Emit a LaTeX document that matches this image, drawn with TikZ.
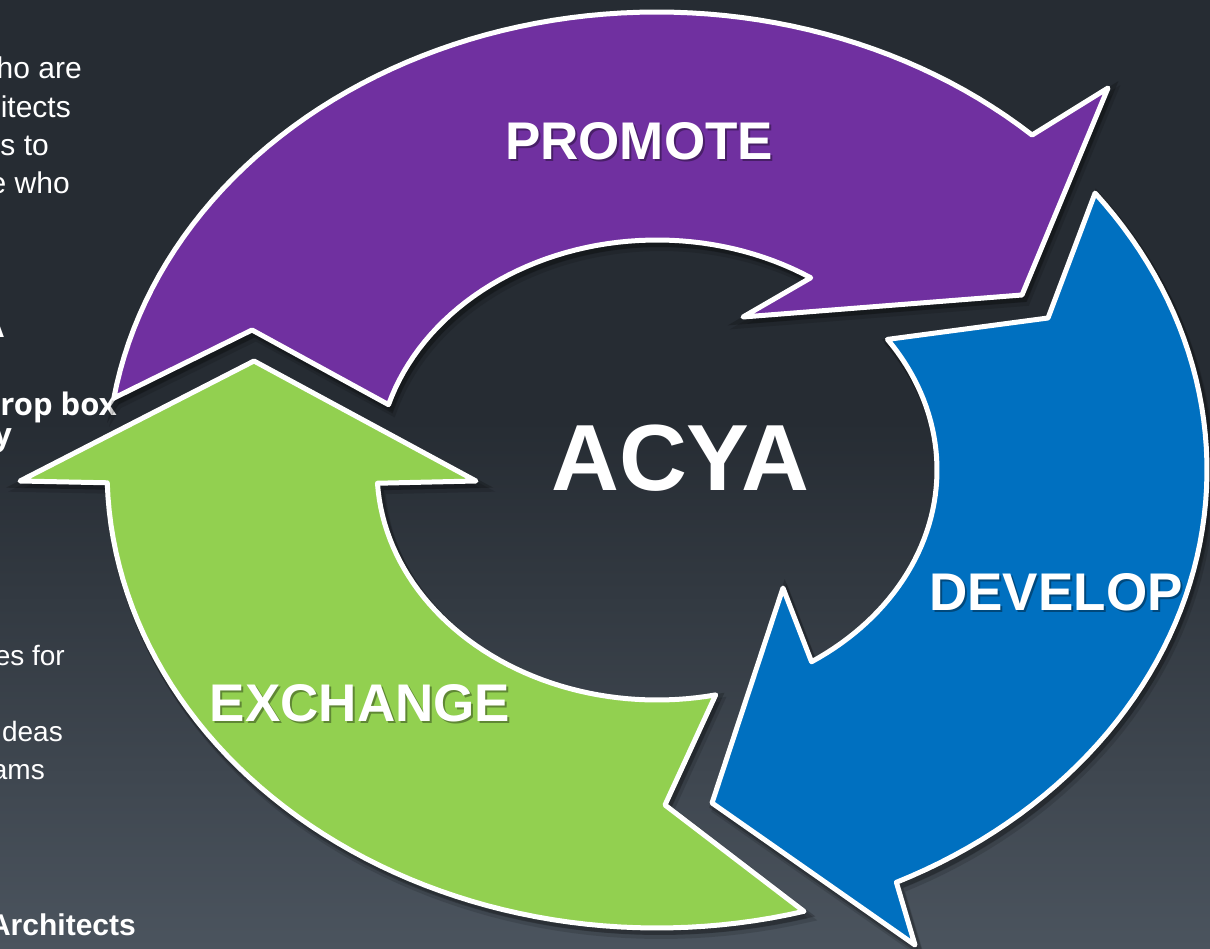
\documentclass[tikz,border=0pt]{standalone}
\usepackage{fontspec}
\setmainfont{Liberation Sans}
\newfontfamily\opensans{Open Sans}
\definecolor{bgtop}{HTML}{262C33}
\definecolor{bgbot}{HTML}{4B545E}
\definecolor{purp}{HTML}{7030A0}
\definecolor{blu}{HTML}{0070C0}
\definecolor{grn}{HTML}{92D050}
\begin{document}
\begin{tikzpicture}[x=1pt,y=-1pt,
  bgtxt/.style={text=white, inner sep=0pt, font=\fontsize{28}{28}\selectfont},
  bgtxtb/.style={text=white, inner sep=0pt, font=\fontsize{30}{30}\selectfont},
  bgbold/.style={text=white, inner sep=0pt, font=\bfseries\fontsize{30}{30}\selectfont},
  bgob/.style={text=white, inner sep=0pt, font=\opensans\bfseries\fontsize{31}{31}\selectfont},
  arrowshape/.style={draw=white, line width=5pt, line join=round,
    preaction={draw=black, fill=black, line width=8pt, opacity=0.2, transform canvas={xshift=2pt,yshift=-3pt}},
    preaction={draw=black, fill=black, line width=8pt, opacity=0.13, transform canvas={xshift=4pt,yshift=-7pt}}},
  lbl/.style={text=white, inner sep=0pt, font=\bfseries\fontsize{53}{53}\selectfont},
  lblshadow/.style={lbl, text=black, opacity=0.35},
  big/.style={text=white, inner sep=0pt, font=\bfseries\fontsize{94}{94}\selectfont}]
\useasboundingbox (0,0) rectangle (1210,949);
\clip (0,0) rectangle (1210,949);
\fill[bgtop] (0,0) rectangle (1210,949);
\shade[top color=bgtop, bottom color=bgbot] (0,420) rectangle (1210,949);

% background text fragments
\node[bgtxtb, anchor=base east] (t1) at (82,79) {ho are};
\node[bgtxtb, anchor=base east] (t2) at (71,118) {itects};
\node[bgtxtb, anchor=base east] (t3) at (49,156) {s to};
\node[bgtxtb, anchor=base east] (t4) at (70,194) {e who};
\node[bgbold, anchor=base east] (t5) at (5,338) {A};
\node[bgob, anchor=base east] (t6) at (117,415) {rop box};
\node[bgob, anchor=base east] (t7) at (12,445) {y};
\node[bgtxt, anchor=base east] (t8) at (65,665) {es for};
\node[bgtxt, anchor=base east] (t9) at (63,741) {deas};
\node[bgtxt, anchor=base east] (t10) at (45,779) {ams};
\node[bgbold, anchor=base east] (t11) at (136,935) {Architects};

% purple arrow (PROMOTE)
\path[arrowshape, fill=purp] (114,398) -- (252,330)
  -- plot[domain=-163.5:-56.7, samples=50] ({657+280*cos(\x)},{470+230*sin(\x)})
  -- (743,317) -- (1022,295) -- (1108,88)
  -- plot[domain=-47:-171, samples=70] ({657+550*cos(\x)},{470+458*sin(\x)})
  -- cycle;

% green arrow (EXCHANGE)
\path[arrowshape, fill=grn] (254,361) -- (476,481)
  -- plot[domain=176.7:77.9, samples=50] ({657+280*cos(\x)},{470+230*sin(\x)})
  -- (665,805)
  -- plot[domain=74.5:178.4, samples=60] ({657+550*cos(\x)},{470+458*sin(\x)})
  -- (20,481) -- cycle;

% blue arrow (DEVELOP)
\path[arrowshape, fill=blu] plot[domain=-37.2:64.2, samples=60] ({657+550*cos(\x)},{470+458*sin(\x)})
  -- (915,945) -- (712,803) -- (783,588)
  -- plot[domain=56.5:-34.6, samples=50] ({657+280*cos(\x)},{470+230*sin(\x)})
  -- (1048,318) -- cycle;

% labels
\node[lblshadow] (promote-s) at (641,143) {PROMOTE};
\node[lbl] (promote) at (639,141) {PROMOTE};
\node[lblshadow] (develop-s) at (1058,594) {DEVELOP};
\node[lbl] (develop) at (1056,592) {DEVELOP};
\node[lblshadow] (exchange-s) at (362,705) {EXCHANGE};
\node[lbl] (exchange) at (360,703) {EXCHANGE};
\node[big] (acya) at (680,458) {ACYA};
\end{tikzpicture}
\end{document}
